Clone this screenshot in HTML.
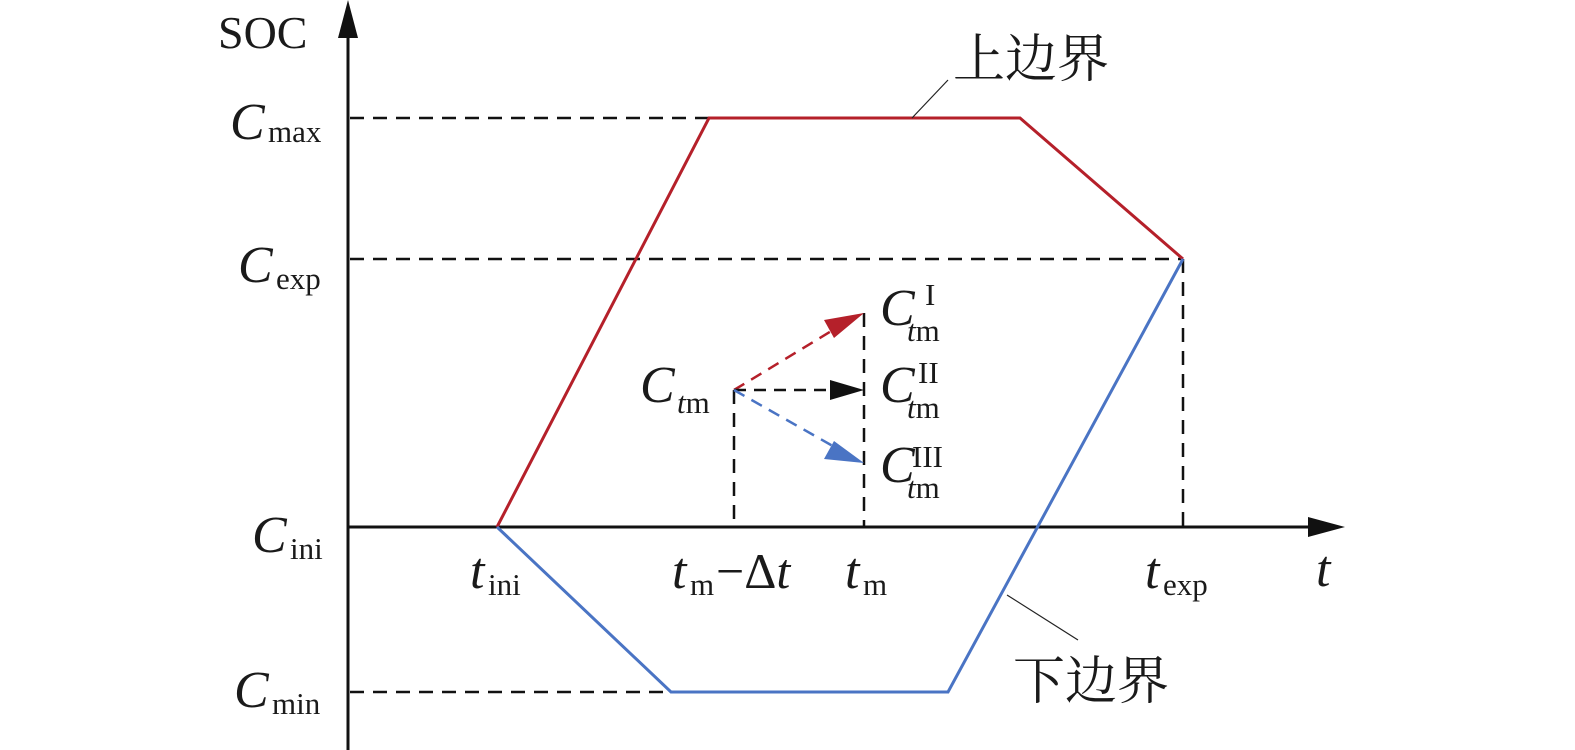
<!DOCTYPE html>
<html><head><meta charset="utf-8"><style>
html,body{margin:0;padding:0;background:#fff;}
svg{display:block;}
text{font-family:"Liberation Serif","Noto Serif CJK SC",serif;fill:#1a1a1a;}
.c{font-style:italic;font-size:52px;}
.s{font-size:31px;}
.zh{font-size:52px;}
</style></head><body>
<svg width="1575" height="750" viewBox="0 0 1575 750" xmlns="http://www.w3.org/2000/svg">
<line x1="348" y1="750" x2="348" y2="30" stroke="#111" stroke-width="3"/>
<polygon points="348,0 338,38 358,38" fill="#111"/>
<line x1="348" y1="527" x2="1310" y2="527" stroke="#111" stroke-width="3"/>
<polygon points="1345,527 1308,517 1308,537" fill="#111"/>
<g stroke="#111" stroke-width="2.5" stroke-dasharray="14,9" fill="none">
<line x1="350" y1="118" x2="709" y2="118"/>
<line x1="350" y1="259" x2="1183" y2="259"/>
<line x1="350" y1="692" x2="671" y2="692"/>
<line x1="734" y1="390" x2="734" y2="527"/>
<line x1="864" y1="313" x2="864" y2="527"/>
<line x1="1183" y1="259" x2="1183" y2="527"/>
</g>
<polyline points="497,527 709,118 1020,118 1183,259" fill="none" stroke="#b5202a" stroke-width="3"/>
<polyline points="497,527 671,692 948,692 1183,259" fill="none" stroke="#4a74c4" stroke-width="3"/>
<line x1="912" y1="118" x2="948" y2="80" stroke="#222" stroke-width="1.2"/>
<line x1="1007" y1="595" x2="1078" y2="640" stroke="#222" stroke-width="1.2"/>
<line x1="734" y1="390" x2="838" y2="327" stroke="#b5202a" stroke-width="2.5" stroke-dasharray="12,8"/>
<polygon points="864,313 834,338 824,320" fill="#b5202a"/>
<line x1="734" y1="390" x2="832" y2="390" stroke="#111" stroke-width="2.5" stroke-dasharray="12,8"/>
<polygon points="864,390 830,380 830,400" fill="#111"/>
<line x1="734" y1="390" x2="838" y2="449" stroke="#4a74c4" stroke-width="2.5" stroke-dasharray="12,8"/>
<polygon points="864,463 824,459 834,441" fill="#4a74c4"/>
<text x="218" y="48" style="font-size:46px">SOC</text>
<text x="230" y="139" class="c">C</text><text x="268" y="142" class="s">max</text>
<text x="238" y="282" class="c">C</text><text x="276" y="289" class="s">exp</text>
<text x="252" y="552" class="c">C</text><text x="290" y="559" class="s">ini</text>
<text x="234" y="707" class="c">C</text><text x="272" y="714" class="s">min</text>
<text x="640" y="402" class="c">C</text><text x="677" y="413" class="s"><tspan font-style="italic">t</tspan>m</text>
<text x="880" y="325" class="c">C</text><text x="925" y="305" class="s">I</text><text x="907" y="341" class="s"><tspan font-style="italic">t</tspan>m</text>
<text x="880" y="402" class="c">C</text><text x="918" y="383" class="s">II</text><text x="907" y="418" class="s"><tspan font-style="italic">t</tspan>m</text>
<text x="880" y="482" class="c">C</text><text x="912" y="467" class="s">III</text><text x="907" y="498" class="s"><tspan font-style="italic">t</tspan>m</text>
<text x="470" y="588" class="c">t</text><text x="488" y="595" class="s">ini</text>
<text x="672" y="588" class="c">t</text><text x="690" y="595" class="s">m</text><text x="716" y="588" style="font-size:50px">−Δ<tspan font-style="italic">t</tspan></text>
<text x="845" y="588" class="c">t</text><text x="863" y="595" class="s">m</text>
<text x="1145" y="588" class="c">t</text><text x="1163" y="595" class="s">exp</text>
<text x="1316" y="586" class="c">t</text>
<text x="953" y="77" class="zh">上边界</text>
<text x="1013" y="699" class="zh">下边界</text>
</svg>
</body></html>
